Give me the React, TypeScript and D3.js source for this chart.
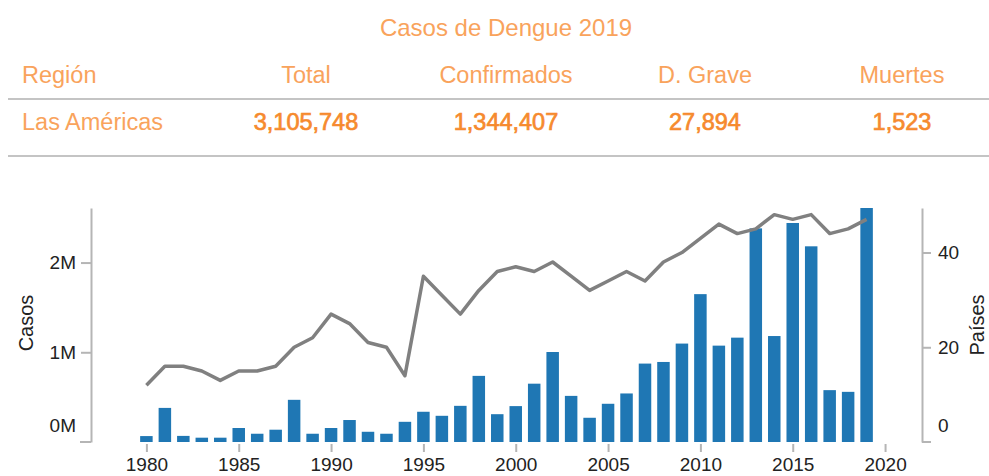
import React, { useEffect, useRef } from "react";
import * as d3 from "d3";

const WIDTH = 989;
const HEIGHT = 476;
const FONT = "'Liberation Sans', Arial, sans-serif";

const TITLE = "Casos de Dengue 2019";
const HEADERS = ["Región", "Total", "Confirmados", "D. Grave", "Muertes"];
const ROW = ["Las Américas", "3,105,748", "1,344,407", "27,894", "1,523"];

const YEARS = [
  1980, 1981, 1982, 1983, 1984, 1985, 1986, 1987, 1988, 1989,
  1990, 1991, 1992, 1993, 1994, 1995, 1996, 1997, 1998, 1999,
  2000, 2001, 2002, 2003, 2004, 2005, 2006, 2007, 2008, 2009,
  2010, 2011, 2012, 2013, 2014, 2015, 2016, 2017, 2018, 2019
];

// casos notificados por año
const CASOS = [
  66000, 380000, 68000, 48000, 48000, 156000, 92000, 137000, 470000, 92000,
  156000, 245000, 114000, 92000, 225000, 337000, 292000, 403000, 737000, 310000,
  400000, 650000, 1003000, 514000, 270000, 426000, 541000, 874000, 892000, 1097000,
  1648000, 1074000, 1163000, 2381000, 1181000, 2441000, 2181000, 578000, 559000, 2608000
];

// países que notificaron
const PAISES = [
  12, 16, 16, 15, 13, 15, 15, 16, 20, 22,
  27, 25, 21, 20, 14, 35, 31, 27, 32, 36,
  37, 36, 38, 35, 32, 34, 36, 34, 38, 40,
  43, 46, 44, 45, 48, 47, 48, 44, 45, 47
];

const X_TICKS = [1980, 1985, 1990, 1995, 2000, 2005, 2010, 2015, 2020];
const CASOS_TICKS = [1000000, 2000000];
const PAISES_TICKS = [20, 40];

const ORANGE_LIGHT = "#f9a35c";
const ORANGE_DARK = "#f68a2e";

export default function App() {
  const ref = useRef<SVGSVGElement>(null);

  useEffect(() => {
    let svg = d3.select(ref.current);
    svg.selectAll("*").remove();
    svg.style("font-family", FONT);

    // --- tabla de resumen ---
    svg.append("text")
      .attr("x", 506)
      .attr("y", 36)
      .attr("text-anchor", "middle")
      .style("font-size", "24px")
      .style("fill", ORANGE_LIGHT)
      .text(TITLE);

    let colX = [22, 306, 506, 705, 902];

    HEADERS.forEach((h, i) => {
      svg.append("text")
        .attr("x", colX[i])
        .attr("y", 83)
        .attr("text-anchor", i === 0 ? "start" : "middle")
        .style("font-size", "23.5px")
        .style("fill", ORANGE_LIGHT)
        .text(h);
    });

    ROW.forEach((v, i) => {
      svg.append("text")
        .attr("x", colX[i])
        .attr("y", 130)
        .attr("text-anchor", i === 0 ? "start" : "middle")
        .style("font-size", "23.5px")
        .style("fill", i === 0 ? ORANGE_LIGHT : ORANGE_DARK)
        .style("stroke", i === 0 ? "none" : ORANGE_DARK)
        .style("stroke-width", 0.7)
        .text(v);
    });

    [99, 156].forEach(y => {
      svg.append("line")
        .attr("x1", 8).attr("x2", WIDTH)
        .attr("y1", y).attr("y2", y)
        .attr("stroke", "#c4c4c4")
        .attr("stroke-width", 2);
    });

    // --- gráfico ---
    let left = 91;
    let right = 922;
    let top = 208;
    let bottom = 442;

    let x = d3.scaleLinear().domain([1977, 2022]).range([left, right]);
    let yCasos = d3.scaleLinear().domain([0, d3.max(CASOS) as number]).range([bottom, top]);
    let yPaises = d3.scaleLinear().domain([0, 49.4]).range([bottom, top]);

    let barW = 12.5;

    svg.append("g")
      .selectAll("rect")
      .data(YEARS)
      .enter()
      .append("rect")
      .attr("x", d => x(d) - barW / 2)
      .attr("y", (d, i) => yCasos(CASOS[i]))
      .attr("width", barW)
      .attr("height", (d, i) => bottom - yCasos(CASOS[i]))
      .style("fill", "#1f77b4");

    let line = d3.line<number>()
      .x(d => x(d))
      .y((d, i) => yPaises(PAISES[i]));

    svg.append("path")
      .datum(YEARS)
      .attr("d", line)
      .attr("fill", "none")
      .attr("stroke", "#808080")
      .attr("stroke-width", 3.5)
      .attr("stroke-linejoin", "round");

    // eje x
    let xAxis = svg.append("g")
      .attr("transform", "translate(0," + (bottom + 2) + ")")
      .call(d3.axisBottom(x).tickValues(X_TICKS).tickFormat(d3.format("d")).tickSize(8).tickPadding(5.5));
    xAxis.select(".domain").remove();

    // eje izquierdo
    let lAxis = svg.append("g")
      .attr("transform", "translate(" + left + ",0)")
      .call(d3.axisLeft(yCasos).tickValues(CASOS_TICKS)
        .tickFormat(d => (+d / 1e6) + "M").tickSize(10).tickSizeOuter(0).tickPadding(5));
    lAxis.append("line")
      .attr("x1", -11).attr("x2", 0)
      .attr("y1", bottom).attr("y2", bottom);
    lAxis.append("text")
      .attr("x", -15)
      .attr("y", bottom - 16)
      .attr("dy", "0.32em")
      .attr("text-anchor", "end")
      .text("0M");

    // eje derecho
    let rAxis = svg.append("g")
      .attr("transform", "translate(" + right + ",0)")
      .call(d3.axisRight(yPaises).tickValues(PAISES_TICKS).tickSize(9).tickSizeOuter(0).tickPadding(7));
    rAxis.append("line")
      .attr("x1", 0).attr("x2", 9)
      .attr("y1", bottom).attr("y2", bottom);
    rAxis.append("text")
      .attr("x", 16)
      .attr("y", bottom - 16)
      .attr("dy", "0.32em")
      .attr("text-anchor", "start")
      .text("0");

    [xAxis, lAxis, rAxis].forEach(g => {
      g.selectAll("line").attr("stroke", "#b5b5b5").attr("stroke-width", 2);
      g.selectAll(".domain").attr("stroke", "#b5b5b5").attr("stroke-width", 2);
      g.selectAll("text")
        .style("font-size", "19px")
        .style("font-family", FONT)
        .style("fill", "#222");
    });

    svg.append("text")
      .attr("transform", "translate(33,323) rotate(-90)")
      .attr("text-anchor", "middle")
      .style("font-size", "20px")
      .style("fill", "#222")
      .text("Casos");

    svg.append("text")
      .attr("transform", "translate(984,325) rotate(-90)")
      .attr("text-anchor", "middle")
      .style("font-size", "20px")
      .style("fill", "#222")
      .text("Países");
  }, []);

  return (
    <svg
      ref={ref}
      width={WIDTH}
      height={HEIGHT}
      style={{ position: "absolute", left: 0, top: 0, display: "block", background: "#fff" }}
    />
  );
}
